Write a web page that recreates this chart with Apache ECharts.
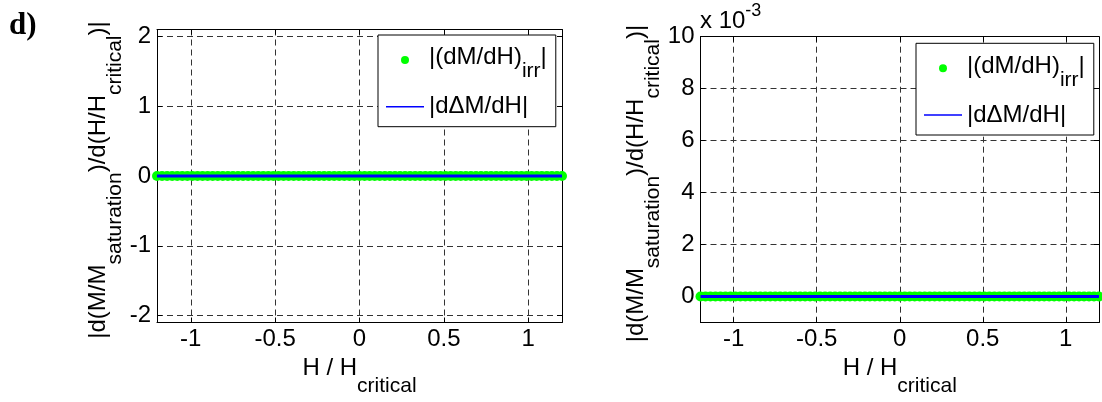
<!DOCTYPE html>
<html><head><meta charset="utf-8">
<script src="https://cdn.jsdelivr.net/npm/echarts@6/dist/echarts.min.js"></script>
<style>html,body{margin:0;padding:0;background:#fff}#c{width:1102px;height:402px}</style>
</head><body><div id="c"></div>
<script>
// H / H_critical sample points
const H = [
 -1.2,-1.17,-1.14,-1.11,-1.08,-1.05,-1.02,-0.99,-0.96,-0.93,
 -0.9,-0.87,-0.84,-0.81,-0.78,-0.75,-0.72,-0.69,-0.66,-0.63,
 -0.6,-0.57,-0.54,-0.51,-0.48,-0.45,-0.42,-0.39,-0.36,-0.33,
 -0.3,-0.27,-0.24,-0.21,-0.18,-0.15,-0.12,-0.09,-0.06,-0.03,
 0,
 0.03,0.06,0.09,0.12,0.15,0.18,0.21,0.24,0.27,0.3,
 0.33,0.36,0.39,0.42,0.45,0.48,0.51,0.54,0.57,0.6,
 0.63,0.66,0.69,0.72,0.75,0.78,0.81,0.84,0.87,0.9,
 0.93,0.96,0.99,1.02,1.05,1.08,1.11,1.14,1.17,1.2
];
// |(dM/dH)_irr|  (all zero)
const dMdH_irr = [
 0,0,0,0,0,0,0,0,0,0, 0,0,0,0,0,0,0,0,0,0, 0,0,0,0,0,0,0,0,0,0, 0,0,0,0,0,0,0,0,0,0,
 0,
 0,0,0,0,0,0,0,0,0,0, 0,0,0,0,0,0,0,0,0,0, 0,0,0,0,0,0,0,0,0,0, 0,0,0,0,0,0,0,0,0,0
];
// |d dM / dH|  (all zero)
const dDeltaM_dH = [
 0,0,0,0,0,0,0,0,0,0, 0,0,0,0,0,0,0,0,0,0, 0,0,0,0,0,0,0,0,0,0, 0,0,0,0,0,0,0,0,0,0,
 0,
 0,0,0,0,0,0,0,0,0,0, 0,0,0,0,0,0,0,0,0,0, 0,0,0,0,0,0,0,0,0,0, 0,0,0,0,0,0,0,0,0,0
];
const xTicks = [-1, -0.5, 0, 0.5, 1];
const yTicksLeft = [-2, -1, 0, 1, 2];
const yTicksRight = [0, 0.002, 0.004, 0.006, 0.008, 0.01];
const seriesNames = ['irr', 'delta'];

const FONT = 'Liberation Sans';
const RICH = {
  m: {fontFamily: FONT, fontSize: 24, lineHeight: 26, verticalAlign: 'top', color: '#000'},
  s: {fontFamily: FONT, fontSize: 21, lineHeight: 21, padding: [18.5, 0, 0, 0], verticalAlign: 'top', color: '#000'}
};
const RICH_X = {
  m: RICH.m,
  s: {fontFamily: FONT, fontSize: 21, lineHeight: 21, padding: [19.5, 0, 0, 0], verticalAlign: 'top', color: '#000'}
};
const RICH_LEG = {
  m: {fontFamily: FONT, fontSize: 24, lineHeight: 28.8, verticalAlign: 'top', color: '#000'},
  s: {fontFamily: FONT, fontSize: 21, lineHeight: 21, padding: [15.5, 0, 0, 0], verticalAlign: 'top', color: '#000'},
  p: {fontFamily: FONT, fontSize: 24, lineHeight: 24, color: '#000'}
};
const gridLine = {show: true, lineStyle: {color: '#333', width: 1, type: [6, 4]}};
const axisLine = {onZero: false, lineStyle: {color: '#000', width: 1}};
const labelStyle = {color: '#000', fontFamily: FONT, fontSize: 24};

const grids = [
  {left: 157, top: 29.5, width: 405, height: 295.5},
  {left: 700.5, top: 36.7, width: 398.5, height: 288.3}
];

function xAxesFor(gi) {
  return [
    {type: 'value', gridIndex: gi, min: -1.2, max: 1.2, position: 'bottom',
     axisLine: axisLine,
     axisTick: {inside: true, length: 5, customValues: xTicks, lineStyle: {color: '#000'}},
     axisLabel: Object.assign({customValues: xTicks, margin: 5, formatter: v => String(v)}, labelStyle),
     splitLine: gridLine,
     name: '{m|H / H}{s|critical}', nameLocation: 'middle', nameGap: 34,
     nameTextStyle: {rich: RICH_X}},
    {type: 'value', gridIndex: gi, min: -1.2, max: 1.2, position: 'top',
     axisLine: axisLine,
     axisTick: {inside: true, length: 5, customValues: xTicks, lineStyle: {color: '#000'}},
     axisLabel: {show: false}, splitLine: {show: false}}
  ];
}
function yAxesFor(gi, mn, mx, ticks, fmt, gap) {
  return [
    {type: 'value', gridIndex: gi, min: mn, max: mx, position: 'left',
     axisLine: axisLine,
     axisTick: {inside: true, length: 5, customValues: ticks, lineStyle: {color: '#000'}},
     axisLabel: Object.assign({customValues: ticks, margin: 6, formatter: fmt}, labelStyle),
     splitLine: gridLine,
     name: '{m||d(M/M}{s|saturation}{m|)/d(H/H}{s|critical}{m|)|}',
     nameLocation: 'middle', nameRotate: 90, nameGap: gap,
     nameTextStyle: {rich: RICH, padding: [0, 8, 0, 0]}},
    {type: 'value', gridIndex: gi, min: mn, max: mx, position: 'right',
     axisLine: axisLine,
     axisTick: {inside: true, length: 5, customValues: ticks, lineStyle: {color: '#000'}},
     axisLabel: {show: false}, splitLine: {show: false}}
  ];
}

function legendFor(left, top) {
  return {
    left: left, top: top, orient: 'vertical',
    padding: [10.6, 9, 8, 8], itemGap: 12.6, itemWidth: 38, itemHeight: 8,
    borderColor: '#000', borderWidth: 1, backgroundColor: '#fff', borderRadius: 0,
    selectedMode: false,
    itemStyle: {borderWidth: 0},
    data: [{name: seriesNames[0], icon: 'circle'},
           {name: seriesNames[1], icon: 'path://M0,0H38V1.5H0Z'}],
    formatter: n => n === 'irr' ? '{m||(dM/dH)}{s|irr}{m||}' : '{p||d\u0394M/dH|}',
    textStyle: {fontFamily: FONT, fontSize: 24, color: '#000', rich: RICH_LEG}
  };
}

function seriesFor(xi, yi) {
  return [
    {type: 'scatter', name: seriesNames[0], xAxisIndex: xi, yAxisIndex: yi,
     data: H.map((h, i) => [h, dMdH_irr[i]]), symbolSize: 10, clip: false,
     itemStyle: {color: '#00ff00', opacity: 1}, z: 2},
    {type: 'line', name: seriesNames[1], xAxisIndex: xi, yAxisIndex: yi,
     data: H.map((h, i) => [h, dDeltaM_dH[i]]), symbol: 'none', clip: false,
     itemStyle: {color: '#0000ff'},
     lineStyle: {color: '#0000ff', width: 3}, z: 3}
  ];
}

const chart = echarts.init(document.getElementById('c'), null, {renderer: 'canvas'});
chart.setOption({
  animation: false,
  backgroundColor: '#fff',
  title: {text: 'd)', left: 4, top: 5,
          textStyle: {fontFamily: 'Liberation Serif', fontWeight: 'bold', fontSize: 31, color: '#000'}},
  grid: grids,
  xAxis: [].concat(xAxesFor(0), xAxesFor(1)),
  yAxis: [].concat(
    yAxesFor(0, -2.1, 2.1, yTicksLeft, v => String(v), 39),
    yAxesFor(1, -0.001, 0.01, yTicksRight, v => String(Math.round(v * 1000)), 43)
  ),
  legend: [legendFor(378, 35), legendFor(916, 43.3)],
  graphic: [{
    type: 'text', left: 700, top: 2,
    style: {text: '{a|x 10}{b|-3}',
      rich: {a: {fontFamily: FONT, fontSize: 24, lineHeight: 24, padding: [7, 0, 0, 0], verticalAlign: 'top', fill: '#000', color: '#000'},
             b: {fontFamily: FONT, fontSize: 18, lineHeight: 18, verticalAlign: 'top', fill: '#000', color: '#000'}}}
  }],
  series: [].concat(seriesFor(0, 0), seriesFor(2, 2))
});
</script></body></html>
